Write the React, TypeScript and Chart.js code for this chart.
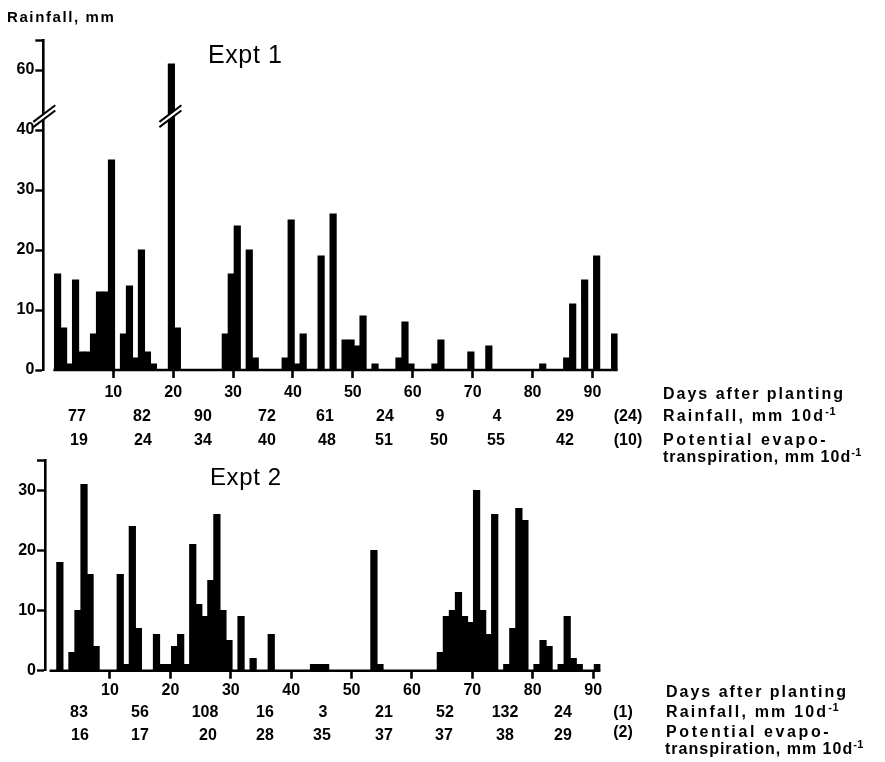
import React, { useEffect, useRef } from "react";
import { Chart, registerables } from "chart.js";

Chart.register(...registerables);

// ---------------- DATA ----------------
// Expt 1: daily rainfall (mm) by day after planting
const expt1Days = [1, 2, 3, 4, 5, 6, 7, 8, 9, 10, 12, 13, 14, 15, 16, 17, 20, 21, 29, 30, 31, 33, 34, 39, 40, 41, 42, 45, 47, 49, 50, 51, 52, 54, 58, 59, 60, 64, 65, 70, 73, 82, 86, 87, 89, 91, 94];
const expt1Rain = [16, 7, 1, 15, 3, 3, 6, 13, 13, 35, 6, 14, 2, 20, 3, 1, 61, 7, 6, 16, 24, 20, 2, 2, 25, 1, 6, 19, 26, 5, 5, 4, 9, 1, 2, 8, 1, 1, 5, 3, 4, 1, 2, 11, 15, 19, 6];

// Expt 2: daily rainfall (mm) by day after planting
const expt2Days = [2, 4, 5, 6, 7, 8, 12, 13, 14, 15, 18, 19, 20, 21, 22, 23, 24, 25, 26, 27, 28, 29, 30, 32, 34, 37, 44, 45, 46, 54, 55, 65, 66, 67, 68, 69, 70, 71, 72, 73, 74, 76, 77, 78, 79, 81, 82, 83, 85, 86, 87, 88, 91];
const expt2Rain = [18, 3, 10, 31, 16, 4, 16, 1, 24, 7, 6, 1, 1, 4, 6, 1, 21, 11, 9, 15, 26, 10, 5, 9, 2, 6, 1, 1, 1, 20, 1, 3, 9, 10, 13, 9, 8, 30, 10, 6, 26, 1, 7, 27, 25, 1, 5, 4, 1, 9, 2, 1, 1];

const xTickDays = [10, 20, 30, 40, 50, 60, 70, 80, 90];
const expt1YTicks = [0, 10, 20, 30, 40, 60];
const expt1YTop = 65;
const expt2YTicks = [0, 10, 20, 30];
const expt2YTop = 35;

// 10-day totals
const expt1RainTotals = ["77", "82", "90", "72", "61", "24", "9", "4", "29"];
const expt1RainRest = "(24)";
const expt1PetTotals = ["19", "24", "34", "40", "48", "51", "50", "55", "42"];
const expt1PetRest = "(10)";
const expt2RainTotals = ["83", "56", "108", "16", "3", "21", "52", "132", "24"];
const expt2RainRest = "(1)";
const expt2PetTotals = ["16", "17", "20", "28", "35", "37", "37", "38", "29"];
const expt2PetRest = "(2)";

// ---------------- LAYOUT / STYLE ----------------
const FONT = "'Liberation Sans', Arial, Helvetica, sans-serif";
const W = 885;
const H = 762;
const BAR_SHIFT = -0.3; // bar centre offset relative to day number
const BREAK_LOW = 45; // values above are drawn on the upper (broken) segment
const BREAK_SHIFT = 10; // 60 is drawn where 50 would be
const BREAK_AT = 42.3; // plotted value where the // marks sit

const plot1 = (v: number) => (v > BREAK_LOW ? v - BREAK_SHIFT : v);

const top1RainX = [77, 142, 203, 267, 325, 385, 440, 497, 565];
const top1PetX = [79, 143, 203, 267, 327, 384, 439, 496, 565];
const bot2RainX = [79, 140, 205, 265, 323, 384, 445, 505, 563];
const bot2PetX = [80, 140, 208, 265, 322, 384, 444, 505, 563];

const axisDecor = {
  id: "axisDecor",
  afterDatasetsDraw(chart: any, _args: any, opts: any) {
    const { ctx, chartArea, scales } = chart;
    const xs = scales.x;
    const ys = scales.y;
    ctx.save();
    // baseline (x axis) from day 0
    const y0 = ys.getPixelForValue(0);
    ctx.strokeStyle = "#000";
    ctx.lineWidth = 2.6;
    ctx.beginPath();
    ctx.moveTo(xs.getPixelForValue(0), y0);
    ctx.lineTo(chartArea.right, y0);
    ctx.stroke();
    // break marks
    if (opts && opts.breakDays) {
      const yb = ys.getPixelForValue(BREAK_AT);
      const centres = [chartArea.left + 1, ...opts.breakDays.map((d: number) => xs.getPixelForValue(d + BAR_SHIFT) - 1)];
      for (const cx of centres) {
        const hw = 10;
        const rise = 7.5;
        const gap = 2.6;
        ctx.fillStyle = "#fff";
        ctx.beginPath();
        ctx.moveTo(cx - hw, yb + rise - gap);
        ctx.lineTo(cx + hw, yb - rise - gap);
        ctx.lineTo(cx + hw, yb - rise + gap);
        ctx.lineTo(cx - hw, yb + rise + gap);
        ctx.closePath();
        ctx.fill();
        ctx.lineWidth = 2;
        ctx.strokeStyle = "#000";
        for (const s of [-gap, gap]) {
          ctx.beginPath();
          ctx.moveTo(cx - hw - 1, yb + rise + s + 0.8);
          ctx.lineTo(cx + hw + 1, yb - rise + s - 0.8);
          ctx.stroke();
        }
      }
    }
    ctx.restore();
  },
};

type ChartSpec = {
  days: number[];
  rain: number[];
  plot: (v: number) => number;
  yTicks: number[];
  yTop: number;
  xMin: number;
  xMax: number;
  padding: { left: number; right: number; top: number; bottom: number };
  xLabelPad: number;
  breakDays?: number[];
};

function makeConfig(s: ChartSpec): any {
  const tickFont = { family: FONT, size: 16, weight: "bold" as const };
  const yTickVals = [...s.yTicks.map(s.plot), s.plot(s.yTop)];
  const labelFor = new Map<number, string>();
  s.yTicks.forEach((v) => labelFor.set(s.plot(v), String(v)));
  return {
    type: "bar",
    data: {
      datasets: [
        {
          data: s.days.map((d, i) => ({ x: d + BAR_SHIFT, y: s.plot(s.rain[i]) })),
          backgroundColor: "#000",
          borderWidth: 0,
          barPercentage: 1,
          categoryPercentage: 1,
          inflateAmount: 0.6,
          grouped: false,
        },
      ],
    },
    options: {
      responsive: false,
      animation: false,
      devicePixelRatio: 1,
      layout: { padding: s.padding },
      plugins: {
        legend: { display: false },
        tooltip: { enabled: false },
        axisDecor: { breakDays: s.breakDays },
      },
      scales: {
        x: {
          type: "linear",
          min: s.xMin,
          max: s.xMax,
          offset: false,
          grid: { display: true, offset: false, drawOnChartArea: false, drawTicks: true, tickLength: 8, tickWidth: 2.6, tickColor: "#000" },
          border: { display: false },
          ticks: { color: "#000", font: tickFont, padding: s.xLabelPad, maxRotation: 0, autoSkip: false, includeBounds: false },
          afterBuildTicks: (sc: any) => {
            sc.ticks = xTickDays.map((v) => ({ value: v }));
          },
          afterFit: (sc: any) => {
            sc.height = 30;
          },
        },
        y: {
          type: "linear",
          min: 0,
          max: s.plot(s.yTop),
          grid: { display: true, drawOnChartArea: false, drawTicks: true, tickLength: 8, tickWidth: 2.4, tickColor: "#000" },
          border: { display: true, color: "#000", width: 2.6 },
          ticks: {
            color: "#000",
            font: tickFont,
            padding: 1,
            callback: (v: any) => labelFor.get(Number(v)) ?? "",
          },
          afterBuildTicks: (sc: any) => {
            sc.ticks = yTickVals.map((v) => ({ value: v }));
          },
          afterFit: (sc: any) => {
            sc.width = 40;
          },
        },
      },
    },
    plugins: [axisDecor],
  };
}

const spec1: ChartSpec = {
  days: expt1Days,
  rain: expt1Rain,
  plot: plot1,
  yTicks: expt1YTicks,
  yTop: expt1YTop,
  xMin: -1.686,
  xMax: 94.2,
  padding: { left: 3.3, right: 267.4, top: 40, bottom: 362 },
  xLabelPad: 5,
  breakDays: expt1Days.filter((_, i) => expt1Rain[i] > BREAK_LOW),
};

const spec2: ChartSpec = {
  days: expt2Days,
  rain: expt2Rain,
  plot: (v) => v,
  yTicks: expt2YTicks,
  yTop: expt2YTop,
  xMin: -0.76,
  xMax: 91.2,
  padding: { left: 5, right: 284.6, top: 460.7, bottom: 61.3 },
  xLabelPad: 2,
};

// ---------------- TEXT HELPERS ----------------
const numStyle = (x: number, y: number): React.CSSProperties => ({
  position: "absolute",
  left: x,
  top: y,
  transform: "translate(-50%, -50%)",
  fontSize: 16,
  lineHeight: "16px",
  fontWeight: "bold",
  whiteSpace: "nowrap",
});

const lblStyle = (x: number, y: number, ls = 1.6, size = 16): React.CSSProperties => ({
  position: "absolute",
  left: x,
  top: y,
  transform: "translateY(-50%)",
  fontSize: size,
  lineHeight: `${size}px`,
  fontWeight: "bold",
  letterSpacing: ls,
  whiteSpace: "nowrap",
});

const Sup = () => (
  <span style={{ fontSize: 11, position: "relative", top: -6, letterSpacing: 0.5 }}>-1</span>
);

function Row({ xs, vals, y }: { xs: number[]; vals: string[]; y: number }) {
  return (
    <>
      {vals.map((v, i) => (
        <div key={i} style={numStyle(xs[i], y)}>
          {v}
        </div>
      ))}
    </>
  );
}

const LS_DAYS = 2.0;
const LS_RAIN = 2.2;
const LS_POT = 2.6;
const LS_TRANS = 1.0;

export default function App() {
  const c1 = useRef<HTMLCanvasElement>(null);
  const c2 = useRef<HTMLCanvasElement>(null);

  useEffect(() => {
    const ch1 = new Chart(c1.current as HTMLCanvasElement, makeConfig(spec1));
    const ch2 = new Chart(c2.current as HTMLCanvasElement, makeConfig(spec2));
    return () => {
      ch1.destroy();
      ch2.destroy();
    };
  }, []);

  return (
    <div
      style={{
        position: "absolute",
        left: 0,
        top: 0,
        width: W,
        height: H,
        background: "#fff",
        color: "#000",
        fontFamily: FONT,
        overflow: "hidden",
      }}
    >
      <canvas ref={c1} width={W} height={H} style={{ position: "absolute", left: 0, top: 0 }} />
      <canvas ref={c2} width={W} height={H} style={{ position: "absolute", left: 0, top: 0 }} />

      <div style={lblStyle(7, 16, 1.6, 15)}>Rainfall, mm</div>
      <div style={{ position: "absolute", left: 208, top: 54, transform: "translateY(-50%)", fontSize: 25, lineHeight: "25px", letterSpacing: 0.6 }}>
        Expt 1
      </div>
      <div style={{ position: "absolute", left: 210, top: 476.5, transform: "translateY(-50%)", fontSize: 24, lineHeight: "24px", letterSpacing: 0.6 }}>
        Expt 2
      </div>

      {/* Expt 1 table */}
      <div style={lblStyle(663, 393.5, LS_DAYS)}>Days after planting</div>
      <Row xs={top1RainX} vals={expt1RainTotals} y={416} />
      <div style={numStyle(628, 416)}>{expt1RainRest}</div>
      <div style={lblStyle(663, 416, LS_RAIN)}>
        Rainfall, mm 10d<Sup />
      </div>
      <Row xs={top1PetX} vals={expt1PetTotals} y={440} />
      <div style={numStyle(628, 440)}>{expt1PetRest}</div>
      <div style={lblStyle(663, 440, LS_POT)}>Potential evapo-</div>
      <div style={lblStyle(663, 456.5, LS_TRANS)}>
        transpiration, mm 10d<Sup />
      </div>

      {/* Expt 2 table */}
      <div style={lblStyle(666, 692, LS_DAYS)}>Days after planting</div>
      <Row xs={bot2RainX} vals={expt2RainTotals} y={711.5} />
      <div style={numStyle(623, 711.5)}>{expt2RainRest}</div>
      <div style={lblStyle(666, 711.5, LS_RAIN)}>
        Rainfall, mm 10d<Sup />
      </div>
      <Row xs={bot2PetX} vals={expt2PetTotals} y={735} />
      <div style={numStyle(623, 732)}>{expt2PetRest}</div>
      <div style={lblStyle(666, 732, LS_POT)}>Potential evapo-</div>
      <div style={lblStyle(665, 748.5, LS_TRANS)}>
        transpiration, mm 10d<Sup />
      </div>
    </div>
  );
}
